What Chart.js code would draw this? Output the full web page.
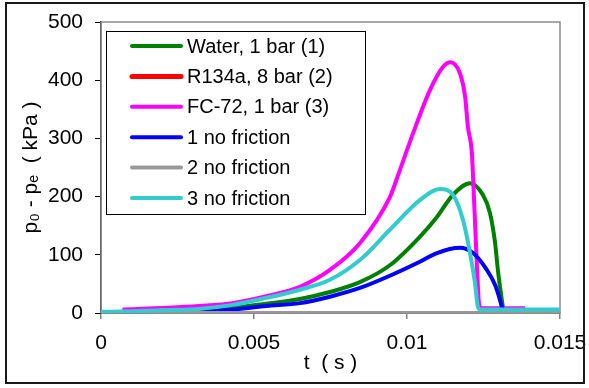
<!DOCTYPE html>
<html>
<head>
<meta charset="utf-8">
<script src="https://cdn.jsdelivr.net/npm/chart.js@4"></script>
<style>
    body { margin: 0; background: #ffffff; }
    #wrap { width: 589px; height: 388px; }
</style>
</head>
<body>
<div id="wrap"><canvas id="pressureChart" width="589" height="388"></canvas></div>
<script>
// Series (t in s, p0 - pe in kPa)
const waterT = [0.002, 0.0032, 0.0044, 0.0056, 0.0065, 0.00748, 0.00846, 0.00944, 0.01042, 0.01098, 0.0115, 0.01206, 0.01248, 0.01271, 0.01288, 0.01297, 0.0131, 0.01314];
const waterP = [1, 3, 10, 17, 24, 36, 53, 82, 131, 165, 203, 223, 203, 172, 120, 74, 22, 8];

const r134aT = [0.0049, 0.0124];
const r134aP = [2, 2];

const fc72T = [0.0007, 0.0022, 0.0032, 0.0043, 0.0054, 0.0065, 0.00748, 0.00846, 0.00944, 0.00977, 0.0102, 0.01075, 0.01118, 0.01141, 0.01173, 0.0119, 0.01199, 0.01212, 0.01216, 0.01222, 0.01229, 0.01235, 0.0124, 0.01386];
const fc72P = [6, 9, 12, 17, 29, 45, 74, 120, 199, 246, 309, 383, 423, 431, 412, 371, 320, 275, 232, 160, 74, 17, 8, 8];

const noFric1T = [0.002, 0.0032, 0.0043, 0.0054, 0.0065, 0.00748, 0.00846, 0.00944, 0.01042, 0.01098, 0.01173, 0.01216, 0.01261, 0.01288, 0.01304, 0.0131, 0.01314];
const noFric1P = [1, 3, 6, 12, 17, 28, 43, 64, 88, 103, 112, 103, 74, 48, 22, 10, 5];

const noFric2T = [0, 0.015];
const noFric2P = [0, 0];

const noFric3T = [0, 0.001, 0.0022, 0.0032, 0.0043, 0.0054, 0.0065, 0.00748, 0.00846, 0.00944, 0.01042, 0.01108, 0.0115, 0.01183, 0.01206, 0.01222, 0.01232, 0.0124, 0.015];
const noFric3P = [2, 3, 5, 7, 14, 26, 40, 57, 91, 143, 194, 213, 203, 160, 103, 52, 10, 6, 6];

const seriesLabels = ['Water, 1 bar (1)', 'R134a, 8 bar (2)', 'FC-72, 1 bar (3)', '1 no friction', '2 no friction', '3 no friction'];
const xTicks = [0, 0.005, 0.01, 0.015];
const yTicks = [0, 100, 200, 300, 400, 500];

const FONT = '"Liberation Sans", Arial, sans-serif';

function toPoints(ts, ps) {
    return ts.map((t, i) => ({ x: t, y: ps[i] }));
}

function makeSet(label, ts, ps, color, width, order, legendWidth) {
    return {
        label: label,
        data: toPoints(ts, ps),
        borderColor: color,
        backgroundColor: color,
        borderWidth: width,
        legendWidth: legendWidth || width,
        pointRadius: 0,
        tension: 0.3,
        cubicInterpolationMode: 'monotone',
        fill: false,
        order: order
    };
}

// outer frame + plot area border
const framePlugin = {
    id: 'frame',
    beforeDatasetsDraw(chart) {
        const { ctx, chartArea } = chart;
        ctx.save();
        ctx.strokeStyle = '#8c8c8c';
        ctx.lineWidth = 1.5;
        ctx.strokeRect(chartArea.left, chartArea.top, chartArea.right - chartArea.left, chartArea.bottom - chartArea.top);
        ctx.restore();
    },
    afterDraw(chart) {
        const ctx = chart.ctx;
        ctx.save();
        ctx.strokeStyle = '#1a1a1a';
        ctx.lineWidth = 2;
        ctx.strokeRect(6, 3, 578, 380);
        ctx.restore();
    }
};

// legend box inside the plot, drawn from the datasets
const boxLegend = {
    id: 'boxLegend',
    afterDatasetsDraw(chart) {
        const ctx = chart.ctx;
        const x0 = 106.5, y0 = 31.5, w = 259, h = 183;
        ctx.save();
        ctx.fillStyle = '#ffffff';
        ctx.fillRect(x0, y0, w, h);
        ctx.strokeStyle = '#000000';
        ctx.lineWidth = 1;
        ctx.strokeRect(x0, y0, w, h);
        ctx.font = '20px ' + FONT;
        ctx.textBaseline = 'middle';
        ctx.textAlign = 'left';
        chart.data.datasets.forEach((ds, i) => {
            const y = 46 + i * 30.4;
            ctx.strokeStyle = ds.borderColor;
            ctx.lineWidth = ds.legendWidth;
            ctx.lineCap = 'round';
            ctx.beginPath();
            ctx.moveTo(132, y);
            ctx.lineTo(181, y);
            ctx.stroke();
            ctx.fillStyle = '#000000';
            ctx.fillText(ds.label, 187, y + 1);
        });
        ctx.restore();
    }
};

const ctx = document.getElementById('pressureChart').getContext('2d');
new Chart(ctx, {
    type: 'line',
    data: {
        datasets: [
            makeSet(seriesLabels[0], waterT, waterP, '#008000', 4, 6),
            makeSet(seriesLabels[1], r134aT, r134aP, '#ff0000', 1.5, 5, 5),
            makeSet(seriesLabels[2], fc72T, fc72P, '#ff00ff', 4, 4),
            makeSet(seriesLabels[3], noFric1T, noFric1P, '#0000ff', 4, 3),
            makeSet(seriesLabels[4], noFric2T, noFric2P, '#999999', 4, 2),
            makeSet(seriesLabels[5], noFric3T, noFric3P, '#33cccc', 4, 1)
        ]
    },
    options: {
        responsive: false,
        animation: false,
        layout: { padding: { left: 0, right: 29, top: 22, bottom: 0 } },
        plugins: {
            legend: { display: false },
            tooltip: { enabled: false }
        },
        scales: {
            x: {
                type: 'linear',
                min: 0,
                max: 0.015,
                afterFit: (scale) => {
                    scale.height = 75;
                    scale.paddingLeft = 0;
                    scale.paddingRight = 0;
                },
                afterBuildTicks: (scale) => { scale.ticks = xTicks.map(v => ({ value: v })); },
                grid: { drawOnChartArea: false, tickLength: 6, color: '#808080', lineWidth: 1.5 },
                border: { color: '#808080', width: 2 },
                ticks: {
                    color: '#000000',
                    padding: 12,
                    maxRotation: 0,
                    font: { family: FONT, size: 21 },
                    callback: (v) => String(+v.toFixed(3))
                },
                title: {
                    display: true,
                    text: 't  ( s )',
                    color: '#000000',
                    font: { family: FONT, size: 21 },
                    padding: { top: 0, bottom: 12 }
                }
            },
            y: {
                min: 0,
                max: 500,
                afterFit: (scale) => {
                    scale.width = 101;
                    scale.paddingTop = 0;
                    scale.paddingBottom = 0;
                },
                afterBuildTicks: (scale) => { scale.ticks = yTicks.map(v => ({ value: v })); },
                grid: { drawOnChartArea: false, tickLength: 6, color: '#000000', lineWidth: 1 },
                border: { color: '#000000', width: 1.5 },
                ticks: {
                    color: '#000000',
                    padding: 12,
                    font: { family: FONT, size: 21 }
                },
                title: {
                    display: true,
                    text: 'p\u2080 - p\u2091  ( kPa )',
                    color: '#000000',
                    font: { family: FONT, size: 21 },
                    padding: { top: 19, bottom: 0 }
                }
            }
        }
    },
    plugins: [framePlugin, boxLegend]
});
</script>
</body>
</html>
